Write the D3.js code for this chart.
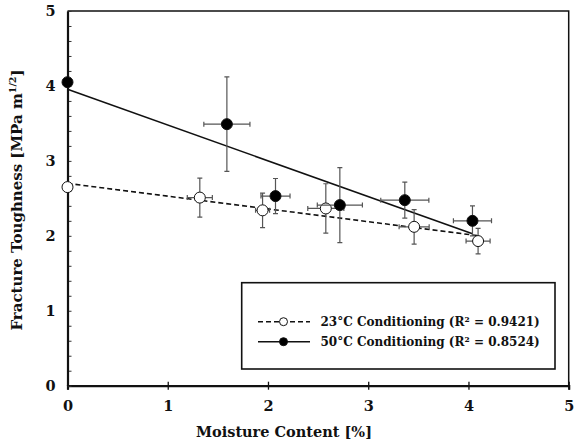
<!DOCTYPE html>
<html>
<head>
<meta charset="utf-8">
<script src="https://cdn.jsdelivr.net/npm/d3@7"></script>
<style>
  body { margin: 0; background: #fff; }
  svg text { font-family: "DejaVu Serif", serif; font-weight: bold; fill: #111; }
</style>
</head>
<body>
<div class="chart"></div>
<script>
// data
const moist23 = [0, 1.32, 1.946, 2.577, 3.458, 4.096];
const kic23   = [2.65, 2.51, 2.34, 2.365, 2.12, 1.93];
const xErr23  = [0, 0.125, 0.07, 0.18, 0.15, 0.12];
const yErr23  = [0, 0.26, 0.23, 0.33, 0.23, 0.17];

const moist50 = [0, 1.59, 2.075, 2.717, 3.365, 4.04];
const kic50   = [4.05, 3.49, 2.53, 2.41, 2.476, 2.2];
const xErr50  = [0, 0.23, 0.145, 0.225, 0.24, 0.19];
const yErr50  = [0, 0.63, 0.235, 0.5, 0.24, 0.2];

const xTicks = [0, 1, 2, 3, 4, 5];
const yTicks = [0, 1, 2, 3, 4, 5];
const legendLabels = ['23°C Conditioning  (R² = 0.9421)', '50°C Conditioning  (R² = 0.8524)'];

const svg = d3.select('.chart').append('svg')
    .attr('width', 582)
    .attr('height', 444);

const xScale = d3.scaleLinear().domain([0, 5]).range([67.5, 568.7]);
const yScale = d3.scaleLinear().domain([0, 5]).range([385.7, 11]);

// frame (top and right)
svg.append('path')
    .attr('d', `M${xScale(0)},${yScale(5)}H${xScale(5)}V${yScale(0)}`)
    .attr('fill', 'none')
    .attr('stroke', '#111')
    .attr('stroke-width', 1.5);

// x axis
const xAxis_group = svg.append('g')
    .attr('transform', `translate(0,${yScale(0)})`)
    .call(d3.axisBottom(xScale).tickValues(xTicks).tickFormat(d3.format('d')).tickSize(4));
xAxis_group.select('.domain').attr('stroke-width', 2.2).attr('stroke', '#111');
xAxis_group.selectAll('.tick line').attr('y1', -4).attr('stroke-width', 1.3).attr('stroke', '#111');
xAxis_group.selectAll('.tick text')
    .attr('y', 15)
    .attr('font-size', 14.5)
    .attr('font-family', '"DejaVu Serif", serif')
    .attr('font-weight', 'bold');

// y axis minor ticks
const yMinor = svg.append('g')
    .attr('transform', `translate(${xScale(0)},0)`)
    .call(d3.axisLeft(yScale).tickValues(d3.range(0, 5.01, 0.2)).tickFormat('').tickSize(-4));
yMinor.select('.domain').remove();
yMinor.selectAll('.tick line').attr('stroke', '#333').attr('stroke-width', 1);

const yAxis_group = svg.append('g')
    .attr('transform', `translate(${xScale(0)},0)`)
    .call(d3.axisLeft(yScale).tickValues(yTicks).tickFormat(d3.format('d')).tickSize(0).tickPadding(12));
yAxis_group.select('.domain').attr('stroke-width', 2.2).attr('stroke', '#111');
yAxis_group.selectAll('.tick text')
    .attr('font-size', 14.5)
    .attr('font-family', '"DejaVu Serif", serif')
    .attr('font-weight', 'bold');

// axis titles
svg.append('text')
    .attr('x', 284)
    .attr('y', 437)
    .attr('text-anchor', 'middle')
    .attr('font-size', 14.5)
    .text('Moisture Content [%]');

const yTitle = svg.append('text')
    .attr('transform', 'translate(22,200) rotate(-90)')
    .attr('text-anchor', 'middle')
    .attr('font-size', 15);
yTitle.append('tspan').text('Fracture Toughness [MPa m');
yTitle.append('tspan').attr('font-size', 9.5).attr('dy', -6).text('1/2');
yTitle.append('tspan').attr('dy', 6).text(']');

// regression lines
function fit(xs, ys) {
    const mx = d3.mean(xs), my = d3.mean(ys);
    const sxy = d3.sum(xs, (x, i) => (x - mx) * (ys[i] - my));
    const sxx = d3.sum(xs, x => (x - mx) * (x - mx));
    const b = sxy / sxx;
    return { b: b, a: my - b * mx };
}

const series = [
    { x: moist23, y: kic23, ex: xErr23, ey: yErr23, fill: '#fff', dash: '5,3' },
    { x: moist50, y: kic50, ex: xErr50, ey: yErr50, fill: '#000', dash: null }
];

const line = d3.line().x(d => xScale(d[0])).y(d => yScale(d[1]));

series.forEach(s => {
    const f = fit(s.x, s.y);
    const x1 = d3.max(s.x);
    svg.append('path')
        .attr('d', line([[0, f.a], [x1, f.a + f.b * x1]]))
        .attr('fill', 'none')
        .attr('stroke', '#111')
        .attr('stroke-width', 1.6)
        .attr('stroke-dasharray', s.dash);
});

// error bars and points
series.forEach(s => {
    const pts = s.x.map((x, i) => ({ x: x, y: s.y[i], ex: s.ex[i], ey: s.ey[i] }));
    const g = svg.append('g').attr('stroke', '#555').attr('stroke-width', 1.2);
    pts.filter(d => d.ey > 0).forEach(d => {
        const cx = xScale(d.x), cy = yScale(d.y);
        const yt = yScale(d.y + d.ey), yb = yScale(d.y - d.ey);
        const xl = xScale(d.x - d.ex), xr = xScale(d.x + d.ex);
        g.append('path').attr('d',
            `M${cx},${yt}V${yb}M${cx - 2.5},${yt}H${cx + 2.5}M${cx - 2.5},${yb}H${cx + 2.5}` +
            `M${xl},${cy}H${xr}M${xl},${cy - 2.5}V${cy + 2.5}M${xr},${cy - 2.5}V${cy + 2.5}`);
    });
    svg.append('g').selectAll('circle')
        .data(pts)
        .enter()
        .append('circle')
        .attr('cx', d => xScale(d.x))
        .attr('cy', d => yScale(d.y))
        .attr('r', 5.5)
        .attr('fill', s.fill)
        .attr('stroke', '#111')
        .attr('stroke-width', 1);
});

// legend
const legend = svg.append('g');
legend.append('rect')
    .attr('x', 241.7).attr('y', 282.7)
    .attr('width', 313.3).attr('height', 86.3)
    .attr('fill', '#fff')
    .attr('stroke', '#111')
    .attr('stroke-width', 1.6);

series.forEach((s, i) => {
    const ly = 321.7 + i * 20;
    legend.append('line')
        .attr('x1', 258).attr('x2', 310)
        .attr('y1', ly).attr('y2', ly)
        .attr('stroke', '#111')
        .attr('stroke-width', 1.4)
        .attr('stroke-dasharray', s.dash);
    legend.append('circle')
        .attr('cx', 283.5).attr('cy', ly)
        .attr('r', 4)
        .attr('fill', s.fill)
        .attr('stroke', '#111');
    legend.append('text')
        .attr('x', 320.5).attr('y', ly + 4.5)
        .attr('font-size', 12)
        .text(legendLabels[i]);
});
</script>
</body>
</html>
